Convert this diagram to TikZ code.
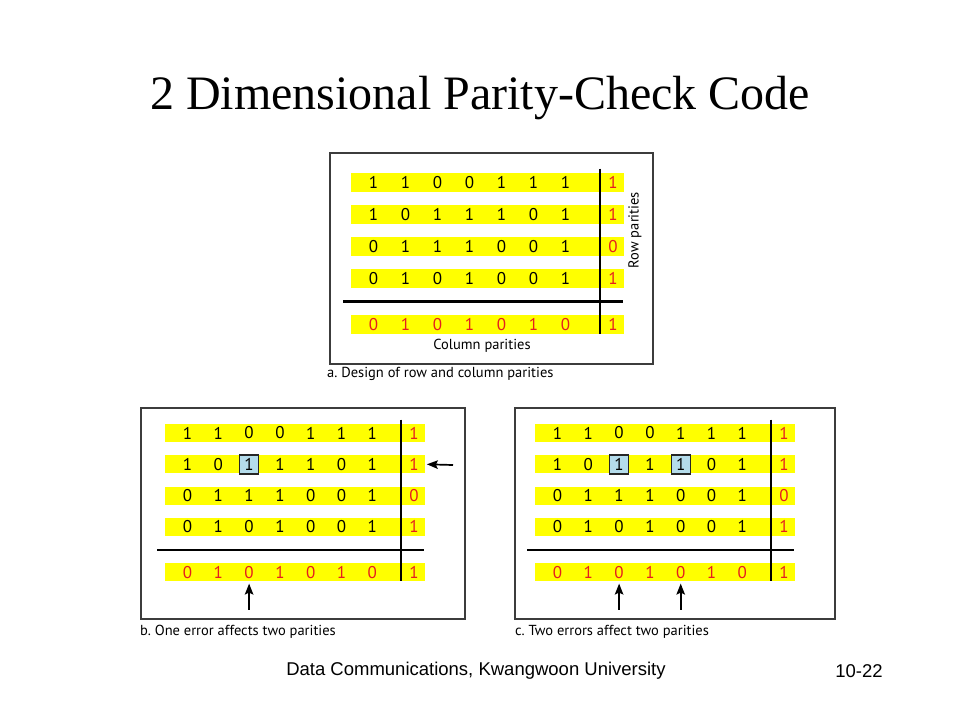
\documentclass[tikz,border=0pt]{standalone}
\usepackage{fontspec}
\setmainfont{Liberation Serif}
\newfontfamily\diagfont{PT Sans}
\newfontfamily\footfont{Liberation Sans}
\usetikzlibrary{arrows.meta}
\frenchspacing
\definecolor{baryellow}{RGB}{255,255,0}
\definecolor{parred}{RGB}{230,30,30}
\definecolor{errblue}{RGB}{180,220,235}
\definecolor{framegray}{RGB}{60,60,60}
\tikzset{
  bar/.style={fill=baryellow, draw=none},
  digit/.style={font=\diagfont\fontsize{17}{17}\selectfont, inner sep=0pt, text=black},
  pdigit/.style={digit, text=parred},
  panelframe/.style={draw=framegray, line width=1.2pt},
  divline/.style={draw=black, line width=2.2pt},
  errbox/.style={draw=black!85, line width=1.4pt, fill=errblue, minimum width=19pt, minimum height=19pt, inner sep=0pt},
  ptr/.style={draw=black, line width=1.7pt, -{Stealth[length=11pt,width=8.5pt,inset=2pt]}},
  caption/.style={font=\diagfont\fontsize{14.5}{15}\selectfont, anchor=west, inner sep=0pt},
}
% #1 name, #2 left, #3 top of first row, #4 col pitch, #5 row pitch, #6 bar width, #7 bar height
\newcommand\paritygrid[7]{%
  \pgfmathsetmacro\pgL{#2}\pgfmathsetmacro\pgT{#3}%
  \pgfmathsetmacro\pgW{#6}\pgfmathsetmacro\pgH{#7}%
  \pgfmathsetmacro\pgHy{#3+4*#5+0.5}%
  \pgfmathsetmacro\pgPt{#3+4*#5+14}%
  \pgfmathsetmacro\pgVx{#2+#6-24}%
  % bars
  \foreach \r in {1,2,3,4} {
    \pgfmathsetmacro\ty{\pgT+(\r-1)*#5}
    \fill[bar] (\pgL,\ty) rectangle ++(\pgW,\pgH);
  }
  \fill[bar] (\pgL,\pgPt) rectangle ++(\pgW,\pgH);
  % digits
  \foreach \r/\bits in {1/{1,1,0,0,1,1,1},2/{1,0,1,1,1,0,1},3/{0,1,1,1,0,0,1},4/{0,1,0,1,0,0,1}} {
    \pgfmathsetmacro\cy{\pgT+(\r-1)*#5+\pgH/2}
    \foreach \b [count=\c] in \bits {
      \node[digit] (#1-\r-\c) at ({\pgL+22.5+(\c-1)*#4},\cy) {\b};
    }
  }
  \foreach \r/\b in {1/1,2/1,3/0,4/1} {
    \pgfmathsetmacro\cy{\pgT+(\r-1)*#5+\pgH/2}
    \node[pdigit] (#1-\r-8) at ({\pgL+\pgW-11},\cy) {\b};
  }
  \pgfmathsetmacro\cy{\pgPt+\pgH/2}
  \foreach \b [count=\c] in {0,1,0,1,0,1,0} {
    \node[pdigit] (#1-5-\c) at ({\pgL+22.5+(\c-1)*#4},\cy) {\b};
  }
  \node[pdigit] (#1-5-8) at ({\pgL+\pgW-11},\cy) {1};
  % dividing lines
  \draw[divline] (\pgVx,\pgT-4.5) -- (\pgVx,\pgPt+\pgH-0.5);
  \draw[divline] (\pgL-8,\pgHy) -- (\pgL+\pgW-1,\pgHy);
}
\begin{document}
\begin{tikzpicture}[x=1pt,y=-1pt]
\useasboundingbox (0,0) rectangle (960,720);
\fill[white] (0,0) rectangle (960,720);

% title
\node[font=\fontsize{48}{48}\selectfont, anchor=base, inner sep=0pt] (title) at (480,109) {2 Dimensional Parity-Check Code};

% panel a
\draw[panelframe] (330,153) rectangle (653,364);
\paritygrid{a}{351}{173}{32}{32}{273}{19}
\node[font=\diagfont\fontsize{14.5}{15}\selectfont, rotate=90, inner sep=0pt] (rowpar) at (635,230) {Row parities};
\node[font=\diagfont\fontsize{14.5}{15}\selectfont, inner sep=0pt] (colpar) at (482,346) {Column parities};
\node[caption] (capa) at (327,374) {a. Design of row and column parities};

% panel b
\draw[panelframe] (141,408) rectangle (465,619);
\paritygrid{b}{165}{424}{30.8}{31.3}{260}{18}
\node[errbox] (errb) at (b-2-3) {};
\node[digit] at (errb) {1};
\coordinate (rb) at (453,465);
\draw[ptr] (rb) -- ([xshift=8pt]b-2-8.east);
\coordinate (ub) at ([yshift=-31pt]b-5-3.south);
\draw[ptr] (ub) -- ([yshift=-5pt]b-5-3.south);
\node[caption] (capb) at (140,632) {b. One error affects two parities};

% panel c
\draw[panelframe] (515,408) rectangle (835,619);
\paritygrid{c}{535}{424}{30.8}{31.3}{260}{18}
\node[errbox] (errc1) at (c-2-3) {};
\node[digit] at (errc1) {1};
\node[errbox] (errc2) at (c-2-5) {};
\node[digit] at (errc2) {1};
\coordinate (uc1) at ([yshift=-31pt]c-5-3.south);
\draw[ptr] (uc1) -- ([yshift=-5pt]c-5-3.south);
\coordinate (uc2) at ([yshift=-31pt]c-5-5.south);
\draw[ptr] (uc2) -- ([yshift=-5pt]c-5-5.south);
\node[caption] (capc) at (515,632) {c. Two errors affect two parities};

% footer
\node[font=\footfont\fontsize{18.5}{18.5}\selectfont, inner sep=0pt] (foot) at (476,671) {Data Communications, Kwangwoon University};
\node[font=\footfont\fontsize{18.5}{18.5}\selectfont, inner sep=0pt] (page) at (859,671) {10-22};
\end{tikzpicture}
\end{document}
